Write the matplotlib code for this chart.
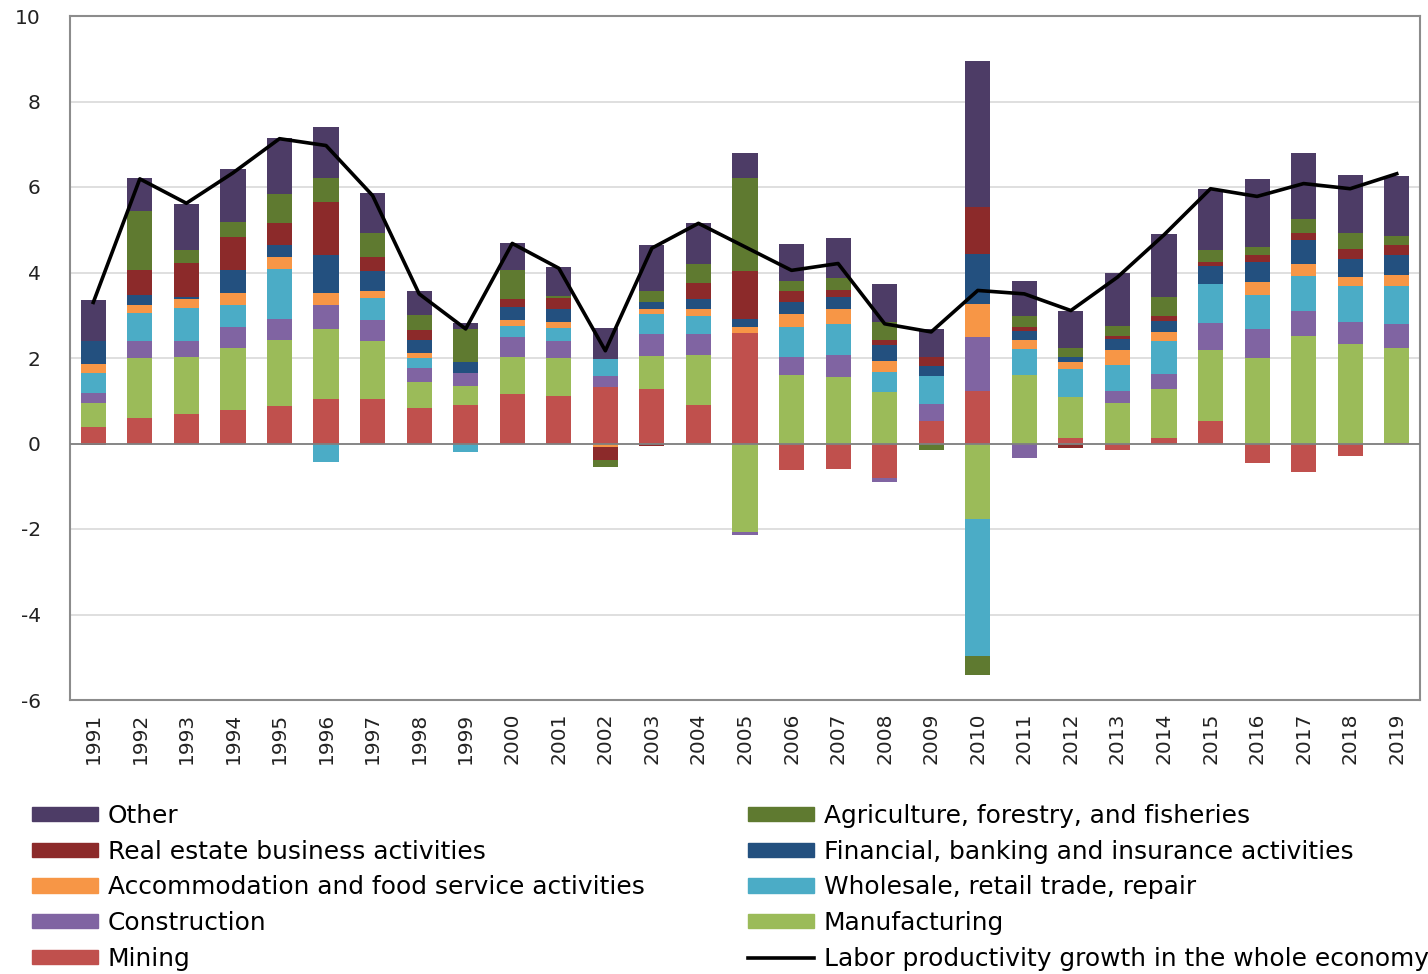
import numpy as np
import matplotlib
matplotlib.use("Agg")
import matplotlib.pyplot as plt
from matplotlib.patches import Patch
from matplotlib.lines import Line2D

plt.rcParams["font.family"] = ["DejaVu Sans"]
plt.rcParams["axes.unicode_minus"] = False

years = list(range(1991, 2020))

mining = [0.39, 0.59, 0.68, 0.78, 0.88, 1.05, 1.05, 0.82, 0.91, 1.15, 1.11, 1.31, 1.27, 0.90, 2.59,
          -0.63, -0.59, -0.81, 0.52, 1.22, 0.00, 0.14, -0.15, 0.14, 0.53, -0.45, -0.66, -0.30, 0.02]
manufacturing = [0.55, 1.41, 1.35, 1.46, 1.54, 1.64, 1.34, 0.61, 0.44, 0.88, 0.88, 0.00, 0.78, 1.17, -2.07,
                 1.61, 1.55, 1.20, 0.00, -1.77, 1.60, 0.94, 0.95, 1.13, 1.66, 1.99, 2.51, 2.33, 2.21]
construction = [0.23, 0.39, 0.37, 0.49, 0.49, 0.55, 0.49, 0.33, 0.31, 0.45, 0.41, 0.26, 0.51, 0.49, -0.08,
                0.41, 0.51, -0.09, 0.41, 1.27, -0.33, 0.00, 0.27, 0.35, 0.63, 0.69, 0.58, 0.52, 0.57]
wholesale = [0.47, 0.66, 0.77, 0.52, 1.17, -0.43, 0.52, 0.23, -0.21, 0.26, 0.30, 0.41, 0.47, 0.43, 0.00,
             0.70, 0.74, 0.47, 0.66, -3.20, 0.61, 0.66, 0.61, 0.78, 0.91, 0.80, 0.83, 0.83, 0.88]
accommodation = [0.23, 0.20, 0.20, 0.26, 0.29, 0.27, 0.16, 0.12, 0.00, 0.16, 0.14, -0.08, 0.12, 0.16, 0.13,
                 0.31, 0.34, 0.25, 0.00, 0.78, 0.20, 0.16, 0.35, 0.21, 0.00, 0.29, 0.29, 0.21, 0.27]
financial = [0.52, 0.23, 0.05, 0.55, 0.27, 0.90, 0.47, 0.30, 0.25, 0.29, 0.31, 0.00, 0.16, 0.23, 0.20,
             0.27, 0.29, 0.38, 0.23, 1.17, 0.23, 0.12, 0.27, 0.26, 0.43, 0.47, 0.55, 0.43, 0.47]
real_estate = [-0.04, 0.59, 0.80, 0.78, 0.51, 1.23, 0.34, 0.25, 0.00, 0.18, 0.25, -0.30, -0.07, 0.38, 1.11,
               0.27, 0.16, 0.12, 0.20, 1.09, 0.08, -0.10, 0.06, 0.12, 0.09, 0.16, 0.16, 0.22, 0.23]
agriculture = [0.00, 1.37, 0.31, 0.34, 0.68, 0.56, 0.55, 0.34, 0.78, 0.70, 0.04, -0.17, 0.25, 0.45, 2.17,
               0.23, 0.27, 0.43, -0.16, -0.45, 0.27, 0.21, 0.25, 0.43, 0.28, 0.20, 0.34, 0.39, 0.21]
other = [0.96, 0.78, 1.07, 1.25, 1.31, 1.21, 0.95, 0.56, 0.14, 0.63, 0.70, 0.72, 1.08, 0.94, 0.59,
         0.86, 0.95, 0.88, 0.66, 3.41, 0.82, 0.88, 1.23, 1.48, 1.42, 1.59, 1.54, 1.34, 1.39]
productivity = [3.30, 6.19, 5.62, 6.33, 7.13, 6.97, 5.80, 3.50, 2.68, 4.68, 4.10, 2.17, 4.57, 5.15, 4.60,
                4.05, 4.21, 2.80, 2.61, 3.58, 3.50, 3.11, 3.89, 4.88, 5.96, 5.78, 6.08, 5.96, 6.31]

# stacking order from the bottom up
sectors = [
    ("Mining", mining, "#C0504D"),
    ("Manufacturing", manufacturing, "#9BBB59"),
    ("Construction", construction, "#8064A2"),
    ("Wholesale, retail trade, repair", wholesale, "#4BACC6"),
    ("Accommodation and food service activities", accommodation, "#F79646"),
    ("Financial, banking and insurance activities", financial, "#23507F"),
    ("Real estate business activities", real_estate, "#8C2A2A"),
    ("Agriculture, forestry, and fisheries", agriculture, "#5F7A30"),
    ("Other", other, "#4D3C66"),
]
line_label = "Labor productivity growth in the whole economy"

fig = plt.figure(figsize=(14.28, 9.74), dpi=100)
ax = fig.add_axes([70 / 1428, 1 - 700 / 974, 1350 / 1428, 684 / 974])

x = np.arange(len(years))
pos_bottom = np.zeros(len(years))
neg_bottom = np.zeros(len(years))
colors = {}
for name, vals, col in sectors:
    v = np.array(vals)
    bottom = np.where(v >= 0, pos_bottom, neg_bottom)
    ax.bar(x, v, 0.54, bottom=bottom, color=col, linewidth=0, zorder=3)
    pos_bottom += np.clip(v, 0, None)
    neg_bottom += np.clip(v, None, 0)
    colors[name] = col

ax.plot(x, productivity, color="black", linewidth=2.6, zorder=5)

ax.set_xlim(-0.5, len(years) - 0.5)
ax.set_ylim(-6, 10)
ax.set_yticks(range(-6, 11, 2))
ax.set_xticks(x)
ax.set_xticklabels([str(y) for y in years], rotation=90, fontsize=14.5, color="#222222")
ax.tick_params(axis="y", labelsize=14.5, labelcolor="#222222", length=0, pad=21)
ax.tick_params(axis="x", length=0, pad=9)
ax.grid(axis="y", color="#dcdcdc", linewidth=1.3, zorder=0)
ax.axhline(0, color="#808080", linewidth=1.3, zorder=4)
for s in ax.spines.values():
    s.set_color("#8c8c8c")
    s.set_linewidth(1.5)

order1 = ["Other", "Real estate business activities", "Accommodation and food service activities",
          "Construction", "Mining"]
order2 = ["Agriculture, forestry, and fisheries", "Financial, banking and insurance activities",
          "Wholesale, retail trade, repair", "Manufacturing"]

leg_kw = dict(frameon=False, fontsize=17.9, handlelength=2.65, handleheight=0.5,
              handletextpad=0.4, labelspacing=0.47, loc="upper left", borderpad=0, borderaxespad=0)
h1 = [Patch(color=colors[n]) for n in order1]
fig.legend(h1, order1, bbox_to_anchor=(32 / 1428, 1 - 804 / 974), **leg_kw)
h2 = [Patch(color=colors[n]) for n in order2] + [Line2D([], [], color="black", linewidth=2.6)]
fig.legend(h2, order2 + [line_label], bbox_to_anchor=(748 / 1428, 1 - 804 / 974), **leg_kw)

fig.savefig("out.png", dpi=100)
